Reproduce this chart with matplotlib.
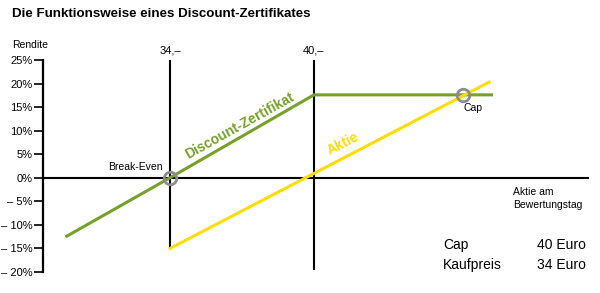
# Funktionsweise eines Discount-Zertifikats
import numpy as np
import matplotlib.pyplot as plt

plt.rcParams['font.family'] = ['Liberation Sans', 'DejaVu Sans']

# Daten (Kurs der Aktie am Bewertungstag -> Rendite in %)
kurs_zert = [29.7, 34.0, 40.0, 47.4]
rendite_zert = [-12.4, 0.0, 17.6, 17.6]

kurs_aktie = [34.0, 47.3]
rendite_aktie = [-15.0, 20.3]

y_ticks = [25, 20, 15, 10, 5, 0, -5, -10, -15, -20]
y_labels = ["25%", "20%", "15%", "10%", "5%", "0%",
            "– 5%", "– 10%", "– 15%", "– 20%"]

kaufpreis = 34
cap = 40
cap_punkt = (46.2, 17.6)

gruen = "#76a12a"
gelb = "#ffdd00"
grau = "#8c8c8c"

fig = plt.figure(figsize=(6, 2.93), dpi=100)
ax = fig.add_axes([43 / 600, 1 - 272 / 293, 557 / 600, 212 / 293])
ax.set_xlim(28.71, 51.92)
ax.set_ylim(-20, 25)

# Achsen
for s in ["top", "right", "bottom"]:
    ax.spines[s].set_visible(False)
ax.spines["left"].set_linewidth(1.6)
ax.set_xticks([])
ax.set_yticks(y_ticks)
ax.set_yticklabels(y_labels, fontsize=8)
ax.tick_params(axis="y", length=6.5, width=1.2, pad=1)

ax.plot([28.71, 51.4], [0, 0], color="black", lw=1.5, zorder=2)
ax.vlines(kaufpreis, -15, 25, color="black", lw=1.5, zorder=2)
ax.vlines(cap, -19.6, 25, color="black", lw=1.5, zorder=2)

# Linien
ax.plot(kurs_zert, rendite_zert, color=gruen, lw=2.2, zorder=3)
ax.plot(kurs_aktie, rendite_aktie, color=gelb, lw=2.2, zorder=3)

# Markierungen
ax.plot(kaufpreis, 0, "o", ms=9, mfc="none", mec=grau, mew=2, zorder=4)
ax.plot(*cap_punkt, "o", ms=9, mfc="none", mec=grau, mew=2, zorder=4)

ax.text(kaufpreis - 0.3, 1.2, "Break-Even", fontsize=7.5, ha="right", va="bottom")
ax.text(cap_punkt[0] + 0.05, 14.8, "Cap", fontsize=7.5, ha="left", va="center")
ax.text(kaufpreis, 26, "34,–", fontsize=8, ha="center", va="bottom")
ax.text(cap, 26, "40,–", fontsize=8, ha="center", va="bottom")
ax.text(36.9, 11.0, "Discount-Zertifikat", color=gruen, fontsize=10,
        fontweight="bold", rotation=29, ha="center", va="center")
ax.text(41.2, 7.2, "Aktie", color=gelb, fontsize=10,
        fontweight="bold", rotation=27, ha="center", va="center")
ax.text(48.3, -2.0, "Aktie am\nBewertungstag", fontsize=7.5,
        ha="left", va="top", linespacing=1.3)

fig.text(12 / 600, 1 - 14 / 293, "Die Funktionsweise eines Discount-Zertifikates",
         fontsize=9.6, fontweight="bold", va="center")
fig.text(12 / 600, 1 - 45 / 293, "Rendite", fontsize=7.5, va="center")

fig.text(443 / 600, 1 - 245 / 293, "Cap", fontsize=10, va="center")
fig.text(537 / 600, 1 - 245 / 293, "40 Euro", fontsize=10, va="center")
fig.text(443 / 600, 1 - 265 / 293, "Kaufpreis", fontsize=10, va="center")
fig.text(537 / 600, 1 - 265 / 293, "34 Euro", fontsize=10, va="center")

fig.savefig("out.png", dpi=100)
